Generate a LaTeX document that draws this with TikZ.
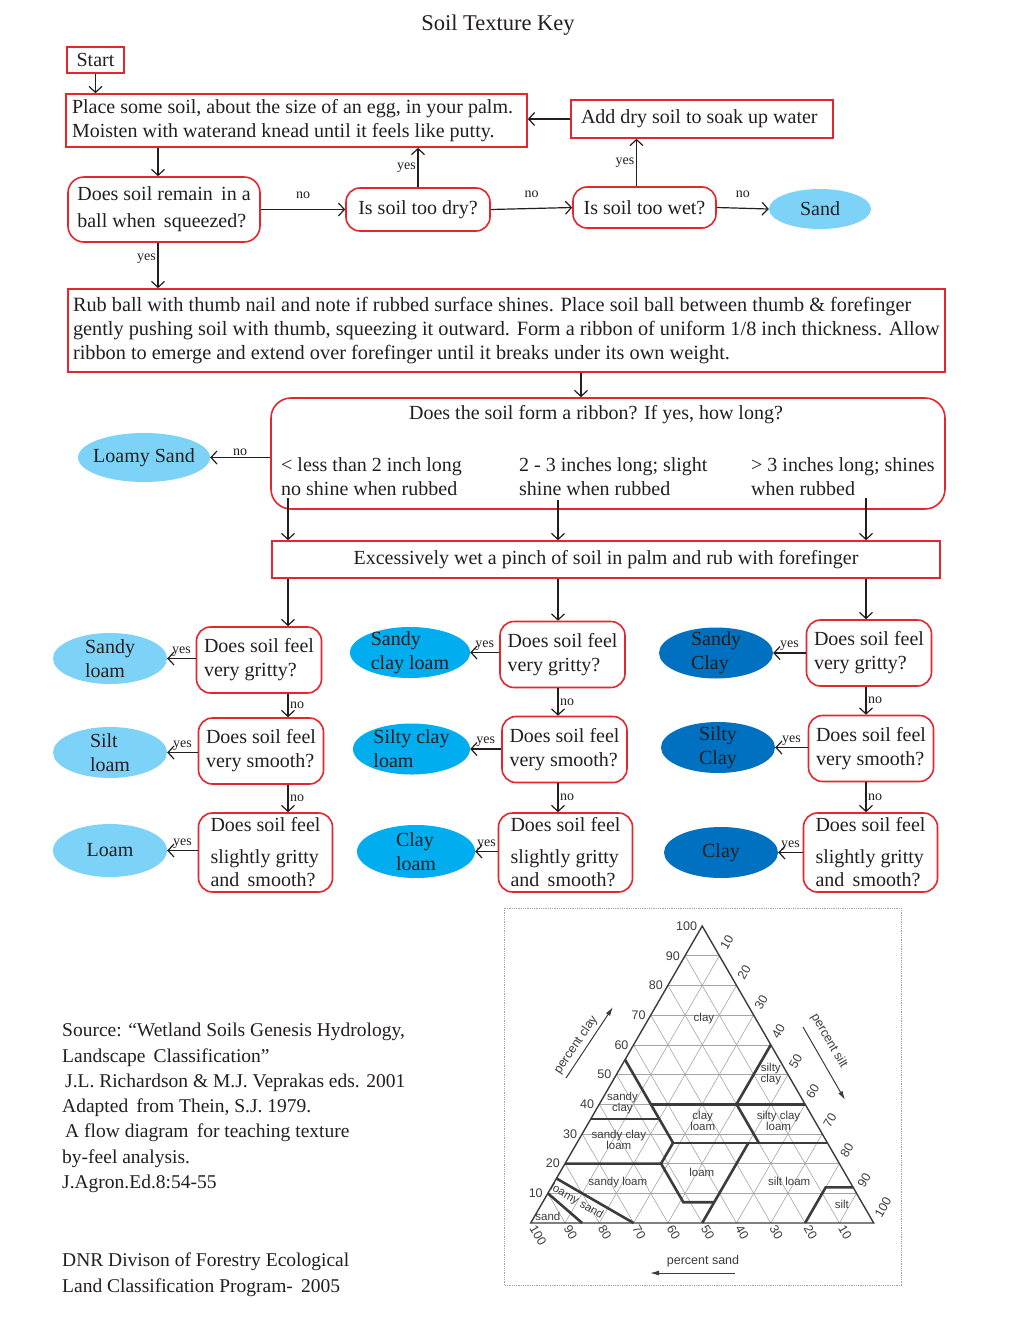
\documentclass[tikz,border=0pt]{standalone}
\usepackage{fontspec}
\setmainfont{Liberation Serif}
\setsansfont{Liberation Sans}
\usetikzlibrary{shapes.geometric, arrows.meta}

\definecolor{boxred}{RGB}{228,38,46}
\definecolor{ink}{RGB}{35,31,32}
\definecolor{lightblue}{RGB}{125,211,247}
\definecolor{midblue}{RGB}{0,174,239}
\definecolor{darkblue}{RGB}{0,112,192}
\definecolor{triink}{RGB}{60,60,60}
\definecolor{trigrid}{RGB}{165,165,165}

\tikzset{
  txt/.style={font=\fontsize{20}{24}\selectfont, text=ink},
  redbox/.style={txt, draw=boxred, line width=1.6pt, inner sep=0pt},
  askbox/.style={redbox, rounded corners=14pt, align=left},
  soil/.style={txt, ellipse, inner xsep=-5pt, inner ysep=-6pt, align=left,
    minimum width=114pt, minimum height=51pt},
  lightsoil/.style={soil, fill=lightblue},
  midsoil/.style={soil, fill=midblue},
  darksoil/.style={soil, fill=darkblue},
  yn/.style={font=\fontsize{14}{14}\selectfont, text=ink, inner sep=1.5pt},
  arr/.style={draw=ink, line width=1.2pt, -{Straight Barb[length=6pt,width=13pt]}},
  % triangle
  grid/.style={draw=trigrid, line width=0.6pt},
  bound/.style={draw=triink, line width=2.6pt},
  tlabel/.style={font=\sffamily\fontsize{11.5}{11}\selectfont, text=triink, align=center, inner sep=1pt},
  tick/.style={font=\sffamily\fontsize{12.5}{13}\selectfont, text=triink, inner sep=2pt},
  axarr/.style={draw=triink, line width=1pt, -{Latex[length=9pt,width=5pt]}},
}

\begin{document}
\begin{tikzpicture}[x=1pt, y=-1pt]
\fill[white] (0,0) rectangle (1020,1320);
\useasboundingbox (0,0) rectangle (1020,1320);

\node[txt, font=\fontsize{22.5}{26}\selectfont] (title) at (498,25) {Soil Texture Key};

% top part
\node[redbox, minimum width=57pt, minimum height=26pt] (start) at (95.5,60) {Start};
\node[redbox, minimum height=53pt, text width=449pt, inner xsep=6pt, align=flush left] (place) at (296.5,120.5)
  {Place some soil, about the size of an egg, in your palm.\\Moisten with waterand knead until it feels like putty.};
\node[askbox, minimum width=192pt, minimum height=65pt, rounded corners=16pt, font=\fontsize{20}{27}\selectfont] (remain) at (164,209.5)
  {Does soil remain \,in a\\ball when \,squeezed?};
\node[askbox, minimum width=144pt, minimum height=43pt] (dry) at (418,209.5) {Is soil too dry?};
\node[askbox, minimum width=143pt, minimum height=41pt] (wet) at (644.5,207.5) {Is soil too wet?};
\node[redbox, minimum width=262pt, minimum height=38pt, text width=250pt, inner xsep=6pt, align=flush left] (add) at (702,119)
  {\hspace*{4pt}Add dry soil to soak up water};
\node[lightsoil, minimum width=102pt, minimum height=40pt] (sand) at (820,209) {Sand};

\draw[arr] (start) -- (start |- place.north);
\draw[arr] ([xshift=-6pt]remain.north |- place.south) -- ([xshift=-6pt]remain.north);
\draw[arr] (remain.east) -- (dry.west) node[yn, midway, above=9pt] {no};
\draw[arr] (dry.north) -- (dry.north |- place.south) node[yn, midway, left] {yes};
\draw[arr] (dry.east) -- (wet.west) node[yn, midway, above=9pt] {no};
\draw[arr] ([xshift=-8pt]wet.north) -- ([xshift=-8pt]wet.north |- add.south) node[yn, midway, left] {yes};
\draw[arr] (add.west) -- (add.west -| place.east);
\draw[arr] (wet.east) -- (sand.west) node[yn, midway, above=9pt] {no};

% ribbon
\node[redbox, minimum width=877pt, minimum height=83pt, text width=867pt, inner xsep=5pt, align=flush left,
      font=\fontsize{20.3}{24}\selectfont] (rub) at (506.5,330.5)
  {Rub ball with thumb nail and note if rubbed surface shines. Place soil ball between thumb \& forefinger\\
   gently pushing soil with thumb, squeezing it outward. Form a ribbon of uniform 1/8 inch thickness. Allow\\
   ribbon to emerge and extend over forefinger until it breaks under its own weight.};
\draw[arr] ([xshift=-6pt]remain.south) -- ([xshift=-6pt]remain.south |- rub.north) node[yn, pos=0.35, left] {yes};

\node[askbox, minimum width=674pt, minimum height=111pt, rounded corners=20pt] (ribbon) at (608,453.5) {};
\node[txt] (how) at (596,415) {Does the soil form a ribbon? If yes, how long?};
\node[txt, anchor=west, align=left, inner sep=0pt] (opt1) at (281,477) {< less than 2 inch long\\no shine when rubbed};
\node[txt, anchor=west, align=left, inner sep=0pt] (opt2) at (519,477) {2 - 3 inches long; slight\\shine when rubbed};
\node[txt, anchor=west, align=left, inner sep=0pt] (opt3) at (751,477) {> 3 inches long; shines\\when rubbed};
\draw[arr] ([xshift=-15pt]how.north |- rub.south) -- ([xshift=-15pt]how.north |- ribbon.north);

\node[lightsoil, minimum width=132pt, minimum height=49pt] (lsand) at (144,457.5) {Loamy Sand};
\draw[arr] (lsand -| ribbon.west) -- (lsand.east) node[yn, midway, above] {no};

\node[redbox, minimum width=668pt, minimum height=37pt] (excess) at (606,559.5)
  {Excessively wet a pinch of soil in palm and rub with forefinger};

\coordinate (colA) at (288,498);
\coordinate (colB) at (558,500);
\coordinate (colC) at (866,498);
\foreach \c in {colA, colB, colC}
  \draw[arr] (\c) -- (\c |- excess.north);

% feel questions
\foreach \n/\xq/\yg/\ys/\xm in {1/259/660/751/265.5, 2/562.5/654.5/749.5/565.5, 3/869/653/748.5/870.5} {
  \node[askbox, minimum width=125pt, minimum height=66pt] (g\n) at (\xq,\yg) {Does soil feel\\very gritty?};
  \node[askbox, minimum width=125pt, minimum height=66pt] (s\n) at (\xq+2,\ys) {Does soil feel\\very smooth?};
  \node[askbox, minimum width=134pt, minimum height=79pt, font=\fontsize{20}{23}\selectfont] (m\n) at (\xm,852.5)
    {Does soil feel\\[9pt]slightly gritty\\and \,smooth?};
}
\foreach \n/\c in {1/colA, 2/colB, 3/colC} {
  \draw[arr] (\c |- excess.south) -- (\c |- g\n.north);
  \draw[arr] (\c |- g\n.south) -- (\c |- s\n.north) node[yn, midway, right] {no};
  \draw[arr] (\c |- s\n.south) -- (\c |- m\n.north) node[yn, midway, right] {no};
}

% soil classes
\node[lightsoil] (sl) at (110,658.5) {Sandy\\loam};
\node[lightsoil] (sil) at (110,752.5) {Silt\\loam};
\node[lightsoil, minimum height=53pt] (lm) at (110,850.5) {Loam};
\node[midsoil, minimum width=120pt] (scl) at (410,652.5) {Sandy\\clay loam};
\node[midsoil, minimum width=117pt] (sicl) at (411.5,749) {Silty clay\\loam};
\node[midsoil, minimum width=118pt, minimum height=53pt] (cl) at (416,851.5) {Clay\\loam};
\node[darksoil] (sc) at (716,653) {Sandy\\Clay};
\node[darksoil] (sic) at (718,747.5) {Silty\\Clay};
\node[darksoil] (cy) at (721,852.5) {Clay};
\foreach \q/\e in {g1/sl, s1/sil, m1/lm, g2/scl, s2/sicl, m2/cl, g3/sc, s3/sic, m3/cy}
  \draw[arr] (\e -| \q.west) -- (\e.east) node[yn, midway, above] {yes};

% source
\node[txt, anchor=north west, align=left, inner sep=0pt, font=\fontsize{19.5}{25.3}\selectfont] (src) at (62,1023)
  {Source: “Wetland Soils Genesis Hydrology,\\Landscape \,Classification”\\
   \hspace*{3pt}J.L. Richardson \& M.J. Veprakas eds. 2001\\Adapted \,from Thein, S.J. 1979.\\
   \hspace*{3pt}A flow diagram \,for teaching texture\\by-feel analysis.\\J.Agron.Ed.8:54-55};
\node[txt, anchor=north west, align=left, inner sep=0pt, font=\fontsize{19.5}{25.8}\selectfont] (dnr) at (62,1253)
  {DNR Divison of Forestry Ecological\\Land Classification Program- \,2005};

% texture triangle
\draw[trigrid, densely dotted, line width=0.8pt] (504,908) rectangle (901,1285);
\begin{scope}[shift={(530.7,1223)}, x={(3.43pt,0pt)}, y={(1.715pt,2.97pt)}]
  \foreach \k in {10,20,...,90} {
    \draw[grid] (0,\k) -- (100-\k,\k);
    \draw[grid] (\k,0) -- (\k,100-\k);
    \draw[grid] (100-\k,0) -- (0,100-\k);
  }
  \draw[triink, line width=1.4pt] (0,0) -- (100,0) -- (0,100) -- cycle;
  \draw[bound] (15,0) -- (0,10);
  \draw[bound] (30,0) -- (0,15);
  \draw[bound] (0,20) -- (28,20) -- (41,7) -- (50,7);
  \draw[bound] (50,0) -- (50,27);
  \draw[bound] (28,20) -- (28,27) -- (20,35) -- (0,55);
  \draw[bound] (0,35) -- (20,35);
  \draw[bound] (28,27) -- (73,27);
  \draw[bound] (15,40) -- (60,40);
  \draw[bound] (53,27) -- (40,40) -- (40,60);
  \draw[bound] (80,0) -- (80,12) -- (88,12);
  \node[tlabel] at (16,69) {clay};
  \node[tlabel] at (45,50) {silty\\clay};
  \node[tlabel] at (6.5,40.5) {sandy\\clay};
  \node[tlabel] at (33,34.3) {clay\\loam};
  \node[tlabel] at (55,34.5) {silty clay\\loam};
  \node[tlabel] at (11.7,28) {sandy clay\\loam};
  \node[tlabel] at (41.3,17.2) {loam};
  \node[tlabel] at (18.5,13.8) {sandy loam};
  \node[tlabel] at (68.3,14.1) {silt loam};
  \node[tlabel] at (87.5,6.4) {silt};
  \node[tlabel, rotate=-30] at (9.8,7.2) {loamy sand};
  \node[tlabel] at (3.9,2.2) {sand};
  \foreach \k in {10,20,...,100} {
    \node[tick, anchor=east, inner xsep=5pt] at (0,\k) {\k};
    \node[tick, rotate=60, anchor=west, inner xsep=8pt] at (\k,100-\k) {\k};
    \node[tick, rotate=-60, anchor=west, inner xsep=4pt] at (100-\k,0) {\k};
  }
\end{scope}
\node[tick, rotate=56] (pclay) at (576,1045) {percent clay};
\draw[axarr] (566,1078) -- (613,1007);
\node[tick, rotate=-60] (psilt) at (829,1041) {percent silt};
\draw[axarr] (803,1027) -- (845,1100);
\node[tick] (psand) at (703,1261) {percent sand};
\draw[axarr] (735,1273) -- (650,1273);
\end{tikzpicture}
\end{document}
